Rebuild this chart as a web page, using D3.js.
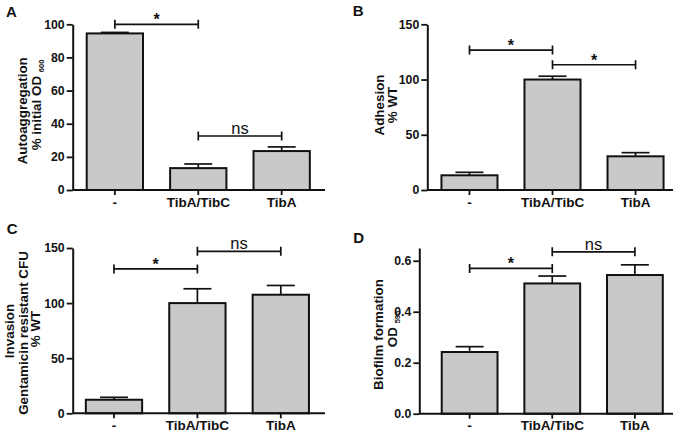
<!DOCTYPE html>
<html>
<head>
<meta charset="utf-8">
<script src="https://cdn.jsdelivr.net/npm/d3@7"></script>
<style>
  html, body { margin: 0; padding: 0; background: #fff; }
  svg { display: block; font-family: "Liberation Sans", Arial, sans-serif; }
</style>
</head>
<body>
<svg id="chart" width="681" height="436"></svg>
<script>
// ---------- data ----------
const categories = ["-", "TibA/TibC", "TibA"];

const autoaggMean = [94.5, 13.2, 23.5];
const autoaggErr  = [0.6, 2.5, 2.5];
const adhesionMean = [13.3, 100, 30.5];
const adhesionErr  = [2.7, 3.0, 3.3];
const invasionMean = [12.3, 100, 107.6];
const invasionErr  = [2.2, 13.0, 8.4];
const biofilmMean = [0.242, 0.511, 0.544];
const biofilmErr  = [0.021, 0.029, 0.040];

const ticksA = [0, 20, 40, 60, 80, 100];
const ticksB = [0, 50, 100, 150];
const ticksC = [0, 50, 100, 150];
const ticksD = [0.0, 0.2, 0.4, 0.6];

const sigA = [{from: 0, to: 1, y: 100, label: "*"}, {from: 1, to: 2, y: 32.6, label: "ns"}];
const sigB = [{from: 0, to: 1, y: 126.7, label: "*"}, {from: 1, to: 2, y: 113.4, label: "*"}];
const sigC = [{from: 0, to: 1, y: 131, label: "*"}, {from: 1, to: 2, y: 147, label: "ns"}];
const sigD = [{from: 0, to: 1, y: 0.570, label: "*"}, {from: 1, to: 2, y: 0.635, label: "ns"}];

const titleA = [{text: "Autoaggregation"}, {text: "% initial OD ", sub: "600"}];
const titleB = [{text: "Adhesion"}, {text: "% WT"}];
const titleC = [{text: "Invasion"}, {text: "Gentamicin resistant CFU"}, {text: "% WT"}];
const titleD = [{text: "Biofilm formation"}, {text: "OD ", sub: "595"}];

// ---------- layout ----------
const panels = [
  {letter: "A", lx: 6, ly: 16.7, mean: autoaggMean, err: autoaggErr, ticks: ticksA, fmt: d3.format("d"),
   max: 100, sig: sigA, title: titleA, tx: [26.7, 41], tcy: [110.8, 105],
   x0: 72.7, x1: 325, yTop: 24.3, yBot: 190, pOuter: 0.175, align: 0.48},
  {letter: "B", lx: 352.7, ly: 16, mean: adhesionMean, err: adhesionErr, ticks: ticksB, fmt: d3.format("d"),
   max: 150, sig: sigB, title: titleB, tx: [383.5, 396.5], tcy: [105, 105],
   x0: 427.3, x1: 673, yTop: 24.3, yBot: 190, pOuter: 0.142, align: 0.6},
  {letter: "C", lx: 6.7, ly: 234, mean: invasionMean, err: invasionErr, ticks: ticksC, fmt: d3.format("d"),
   max: 150, sig: sigC, title: titleC, tx: [14, 28.3, 39.5], tcy: [331, 333, 329],
   x0: 72.7, x1: 325, yTop: 248, yBot: 413.3, pOuter: 0.175, align: 0.45},
  {letter: "D", lx: 353.3, ly: 243, mean: biofilmMean, err: biofilmErr, ticks: ticksD, fmt: d3.format(".1f"),
   max: 0.65, sig: sigD, title: titleD, tx: [383.3, 396.7], tcy: [334.5, 329],
   x0: 419.3, x1: 673, yTop: 248, yBot: 413.7, pOuter: 0.1975, align: 0.687}
];

const svg = d3.select("#chart");
const ink = "#111";

panels.forEach(p => {
  const g = svg.append("g");
  const x = d3.scaleBand().domain(categories).range([p.x0, p.x1])
    .paddingInner(0.325).paddingOuter(p.pOuter).align(p.align);
  const y = d3.scaleLinear().domain([0, p.max]).range([p.yBot, p.yTop]);

  // panel letter
  g.append("text").attr("x", p.lx).attr("y", p.ly)
    .attr("font-size", 15).attr("font-weight", "bold").attr("fill", ink).text(p.letter);

  // error bars (upper only) drawn first
  const capW = 28;
  categories.forEach((c, i) => {
    const cx = x(c) + x.bandwidth() / 2;
    g.append("line").attr("x1", cx).attr("x2", cx)
      .attr("y1", y(p.mean[i])).attr("y2", y(p.mean[i] + p.err[i]))
      .attr("stroke", ink).attr("stroke-width", 1.7);
    g.append("line").attr("x1", cx - capW / 2).attr("x2", cx + capW / 2)
      .attr("y1", y(p.mean[i] + p.err[i])).attr("y2", y(p.mean[i] + p.err[i]))
      .attr("stroke", ink).attr("stroke-width", 1.7);
  });

  // bars
  g.selectAll("rect.bar").data(categories).join("rect").attr("class", "bar")
    .attr("x", d => x(d)).attr("width", x.bandwidth())
    .attr("y", (d, i) => y(p.mean[i]))
    .attr("height", (d, i) => y(0) - y(p.mean[i]))
    .attr("fill", "#c9c9c9").attr("stroke", ink).attr("stroke-width", 2);

  // y axis
  const yAxis = d3.axisLeft(y).tickValues(p.ticks).tickFormat(p.fmt).tickSize(6).tickPadding(2).tickSizeOuter(0);
  const ya = g.append("g").attr("transform", `translate(${p.x0},0)`).call(yAxis);
  ya.select(".domain").attr("stroke", ink).attr("stroke-width", 2);
  ya.selectAll(".tick line").attr("stroke", ink).attr("stroke-width", 1.8);
  ya.selectAll(".tick text").attr("font-size", 12.3).attr("font-weight", "bold")
    .attr("font-family", "Liberation Sans, Arial, sans-serif").attr("fill", ink);

  // x axis
  const xAxis = d3.axisBottom(x).tickSize(5).tickPadding(4).tickSizeOuter(0);
  const xa = g.append("g").attr("transform", `translate(0,${p.yBot})`).call(xAxis);
  xa.select(".domain").attr("stroke", ink).attr("stroke-width", 2)
    .attr("d", `M${p.x0},0H${p.x1}`);
  xa.selectAll(".tick line").attr("stroke", ink).attr("stroke-width", 1.8);
  xa.selectAll(".tick text").attr("font-size", 13.5).attr("font-weight", "bold")
    .attr("font-family", "Liberation Sans, Arial, sans-serif").attr("fill", ink)
    .attr("dy", null).attr("y", 16.5);

  // significance brackets
  p.sig.forEach(s => {
    const xa1 = x(categories[s.from]) + x.bandwidth() / 2;
    const xa2 = x(categories[s.to]) + x.bandwidth() / 2;
    const yy = y(s.y);
    g.append("path")
      .attr("d", `M${xa1},${yy - 4.5}V${yy + 4.5}M${xa1},${yy}H${xa2}M${xa2},${yy - 4.5}V${yy + 4.5}`)
      .attr("fill", "none").attr("stroke", ink).attr("stroke-width", 1.7);
    const isStar = s.label === "*";
    g.append("text").attr("x", (xa1 + xa2) / 2).attr("y", isStar ? yy + 1 : yy - 2.2)
      .attr("text-anchor", "middle").attr("font-size", isStar ? 16 : 16.5)
      .attr("font-weight", isStar ? "bold" : "normal")
      .attr("font-family", "Liberation Sans, Arial, sans-serif")
      .attr("fill", ink).text(s.label);
  });

  // y title (rotated)
  p.title.forEach((t, i) => {
    const txt = g.append("text")
      .attr("transform", `translate(${p.tx[i]},${p.tcy[i]}) rotate(-90)`)
      .attr("text-anchor", "middle").attr("font-size", 13.4).attr("font-weight", "bold").attr("fill", ink);
    txt.append("tspan").text(t.text);
    if (t.sub) {
      txt.append("tspan").attr("font-size", 7.5).attr("dy", 3).text(t.sub);
    }
  });
});
</script>
</body>
</html>
